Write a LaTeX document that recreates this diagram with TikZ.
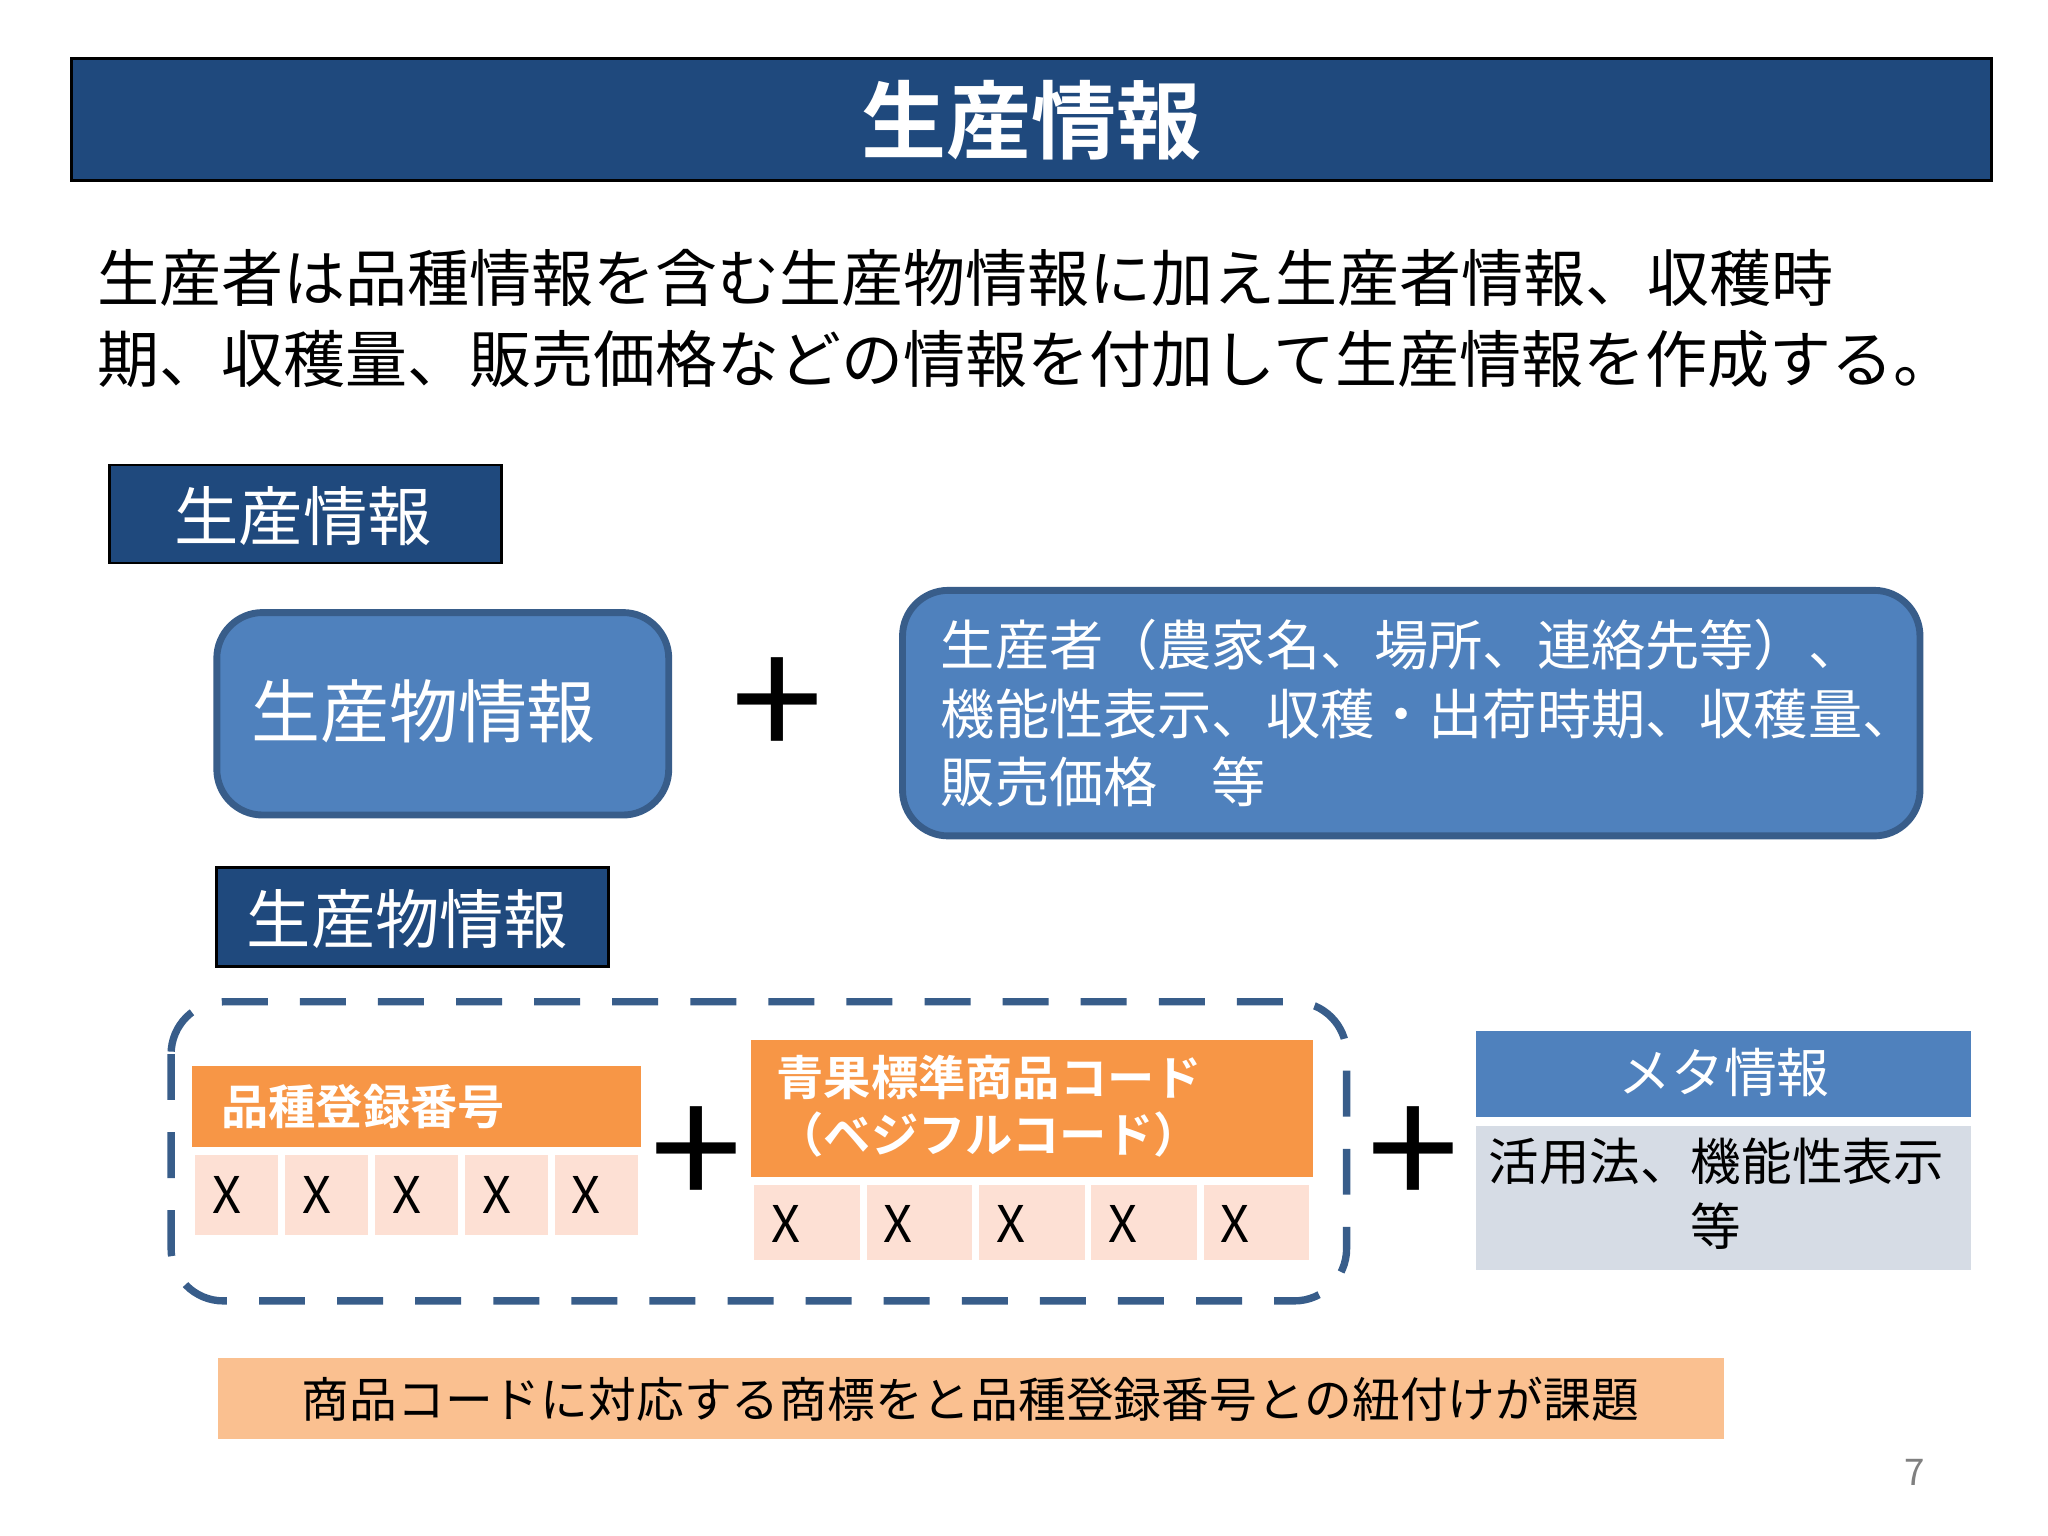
\documentclass[tikz,border=0pt]{standalone}
\usepackage{fontspec}
\setmainfont{Noto Sans CJK JP}
\newfontfamily\jpb{Noto Sans CJK JP Bold}
\definecolor{navy}{HTML}{1F497D}
\definecolor{mblue}{HTML}{4F81BD}
\definecolor{bdr}{HTML}{385D8A}
\definecolor{orng}{HTML}{F79646}
\definecolor{peach}{HTML}{FDE0D4}
\definecolor{gray1}{HTML}{D6DCE5}
\definecolor{bar}{HTML}{FAC090}
\begin{document}
\begin{tikzpicture}[x=0.01cm,y=-0.01cm,
 navybox/.style={fill=navy,draw=black,line width=0.6pt},
 rbox/.style={fill=mblue,draw=bdr,line width=1.5pt,rounded corners=0.35cm},
 cellbox/.style={fill=peach,draw=white,line width=1.5pt},
 xlab/.style={anchor=west,font=\fontsize{11pt}{13pt}\selectfont,inner sep=0pt},
 plus/.style={font=\fontsize{36pt}{36pt}\selectfont}]
\useasboundingbox (0,0) rectangle (1568,1176);
\fill[white] (0,0) rectangle (1568,1176);
% title
\draw[navybox] (55,45) rectangle (1525,138);
\node[text=white,font=\jpb\fontsize{18.5pt}{20pt}\selectfont] (title) at (790,92) {生産情報};
\node[anchor=west,align=left,font=\fontsize{13.5pt}{17.6pt}\selectfont] (para) at (62,244)
 {生産者は品種情報を含む生産物情報に加え生産者情報、収穫時\\期、収穫量、販売価格などの情報を付加して生産情報を作成する。};
% section labels
\draw[navybox] (84,356) rectangle (384,431);
\node[text=white,font=\fontsize{14pt}{16pt}\selectfont] (s1) at (232,395) {生産情報};
\draw[rbox] (166,469) rectangle (512,624);
\node[anchor=west,text=white,font=\fontsize{15pt}{17pt}\selectfont] (b1) at (180,545) {生産物情報};
\node[plus] (p1) at (595,543) {+};
\draw[rbox] (691,452) rectangle (1470,640);
\node[anchor=west,align=left,text=white,font=\fontsize{11.8pt}{15pt}\selectfont] (b2) at (708,546)
 {生産者（農家名、場所、連絡先等）、\\機能性表示、収穫・出荷時期、収穫量、\\販売価格\quad 等};
\draw[navybox] (166,664) rectangle (466,740);
\node[text=white,font=\fontsize{14pt}{16pt}\selectfont] (s2) at (312,704) {生産物情報};
% dashed group
\draw[bdr,line width=1.6pt,dash pattern=on 10pt off 7pt,rounded corners=0.4cm] (131,767) rectangle (1031,996);
\fill[orng] (147,816) rectangle (491,878);
\node[anchor=west,text=white,font=\jpb\fontsize{10.3pt}{12pt}\selectfont] (h1) at (157,847) {品種登録番号};
\foreach \i in {0,...,4}{
 \draw[cellbox] ({147+\i*68.8},882) rectangle ({147+(\i+1)*68.8},948);
 \node[xlab] (xa\i) at ({162+\i*68.8},915) {X};}
\node[plus] (p2) at (533,887) {+};
\fill[orng] (575,796) rectangle (1005,901);
\node[anchor=west,align=left,text=white,font=\jpb\fontsize{10.3pt}{12.5pt}\selectfont] (h2) at (582,847) {青果標準商品コード\\（ベジフルコード）};
\foreach \i in {0,...,4}{
 \draw[cellbox] ({575+\i*86},905) rectangle ({575+(\i+1)*86},967);
 \node[xlab] (xb\i) at ({590+\i*86},937) {X};}
\node[plus] (p3) at (1082,887) {+};
\fill[mblue] (1130,789) rectangle (1509,855);
\node[text=white,font=\fontsize{11.5pt}{13pt}\selectfont] (m1) at (1320,821) {メタ情報};
\fill[gray1] (1130,862) rectangle (1509,972);
\node[align=center,font=\fontsize{11pt}{14pt}\selectfont] (m2) at (1314,914) {活用法、機能性表示\\等};
% bottom
\fill[bar] (167,1040) rectangle (1320,1102);
\node[font=\fontsize{10.4pt}{13pt}\selectfont] (bt) at (743,1071) {商品コードに対応する商標をと品種登録番号との紐付けが課題};
\node[text=gray,font=\fontsize{8pt}{9pt}\selectfont] (pg) at (1466,1127) {7};
\end{tikzpicture}
\end{document}
